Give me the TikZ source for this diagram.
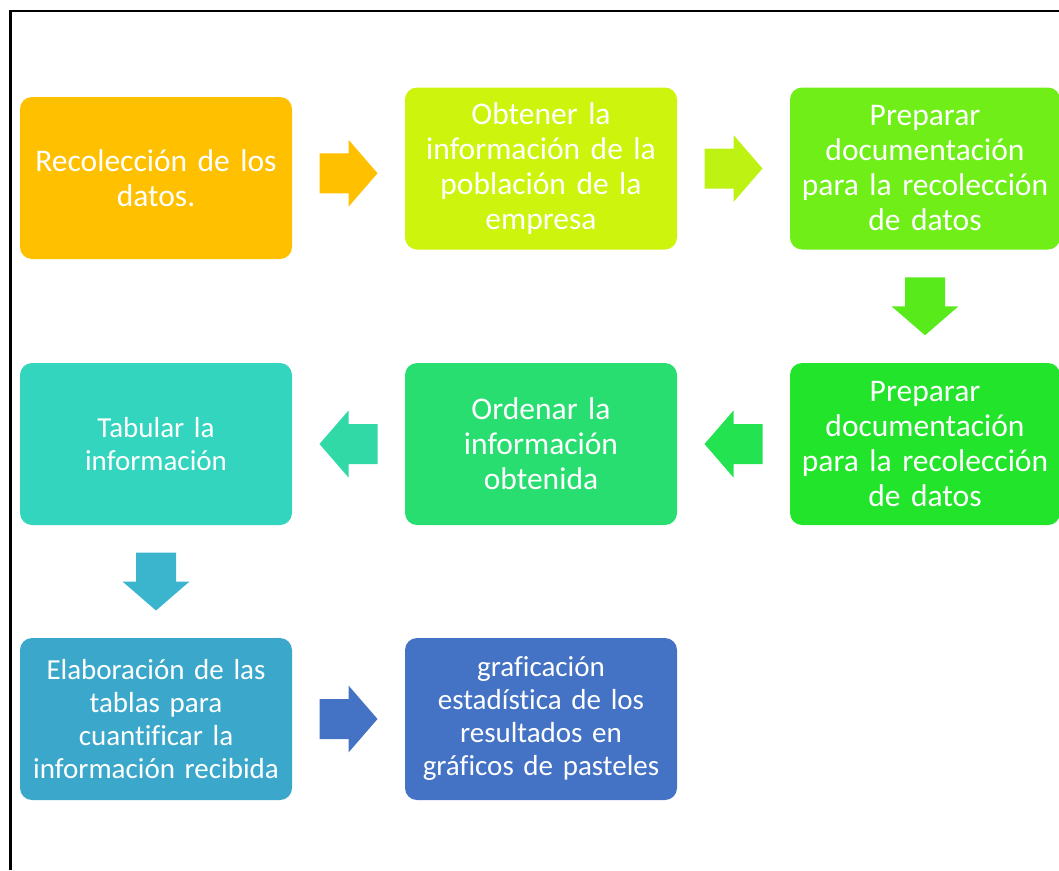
\documentclass[tikz,border=0pt]{standalone}
\usepackage{fontspec}
\setmainfont{Carlito}[Ligatures=NoCommon]
\usetikzlibrary{calc}
\definecolor{cRecol}{HTML}{FFC000}
\definecolor{cObten}{HTML}{CDF40C}
\definecolor{cPrepA}{HTML}{70EE18}
\definecolor{cPrepB}{HTML}{22E42A}
\definecolor{cOrden}{HTML}{28DE70}
\definecolor{cTabul}{HTML}{33D5BE}
\definecolor{cElab}{HTML}{3BA8CB}
\definecolor{cGraf}{HTML}{4472C4}
\tikzset{
  paso/.style={rectangle, rounded corners=12pt, minimum width=272pt, minimum height=162pt,
    text width=262pt, align=center, text=white, inner sep=0pt,
    font=\fontsize{31.5}{35}\selectfont},
  pasochico/.style={paso, font=\fontsize{29}{33}\selectfont},
  flecha/.pic={\fill[pic actions] (-29,-20) -- (0,-20) -- (0,-33.5) -- (29,0) -- (0,33.5) -- (0,20) -- (-29,20) -- cycle;}
}
\begin{document}
\begin{tikzpicture}[x=1pt,y=1pt]
    \useasboundingbox (0,0) rectangle (1059,-870);
    \draw[line width=2.5pt] (10.5,-870) |- (1059,-11);
    \node[paso, fill=cRecol] (recol) at (156,-178) {Recolección de los\\datos.};
    \node[paso, fill=cObten] (obten) at (541,-168.5) {Obtener la\\información de la\\población de la\\empresa};
    \node[paso, fill=cPrepA, minimum width=270pt] (prepa) at (925,-168.5) {Preparar\\documentación\\para la recolección\\de datos};
    \node[paso, fill=cPrepB, minimum width=270pt] (prepb) at (925,-444) {Preparar\\documentación\\para la recolección\\de datos};
    \node[paso, fill=cOrden] (orden) at (541,-444) {Ordenar la\\información\\obtenida};
    \node[pasochico, fill=cTabul] (tabul) at (156,-444) {Tabular la\\información};
    \node[pasochico, fill=cElab] (elab) at (156,-719) {Elaboración de las\\tablas para\\cuantificar la\\información recibida};
    \node[pasochico, fill=cGraf] (graf) at (541,-719) {graficación\\estadística de los\\resultados en\\gráficos de pasteles};
    \pic[fill=cRecol] at ($(recol.east)!0.5!(obten.west)$) {flecha};
    \pic[fill={rgb,255:red,190;green,242;blue,19}] at ($(obten.east)!0.5!(prepa.west)$) {flecha};
    \pic[fill={rgb,255:red,88;green,234;blue,26}, rotate=-90] at ($(prepa.south)!0.5!(prepb.north)$) {flecha};
    \pic[fill={rgb,255:red,36;green,227;blue,80}, rotate=180] at ($(prepb.west)!0.5!(orden.east)$) {flecha};
    \pic[fill={rgb,255:red,48;green,217;blue,165}, rotate=180] at ($(orden.west)!0.5!(tabul.east)$) {flecha};
    \pic[fill={rgb,255:red,59;green,181;blue,205}, rotate=-90] at ($(tabul.south)!0.5!(elab.north)$) {flecha};
    \pic[fill=cGraf] at ($(elab.east)!0.5!(graf.west)$) {flecha};
\end{tikzpicture}
\end{document}
